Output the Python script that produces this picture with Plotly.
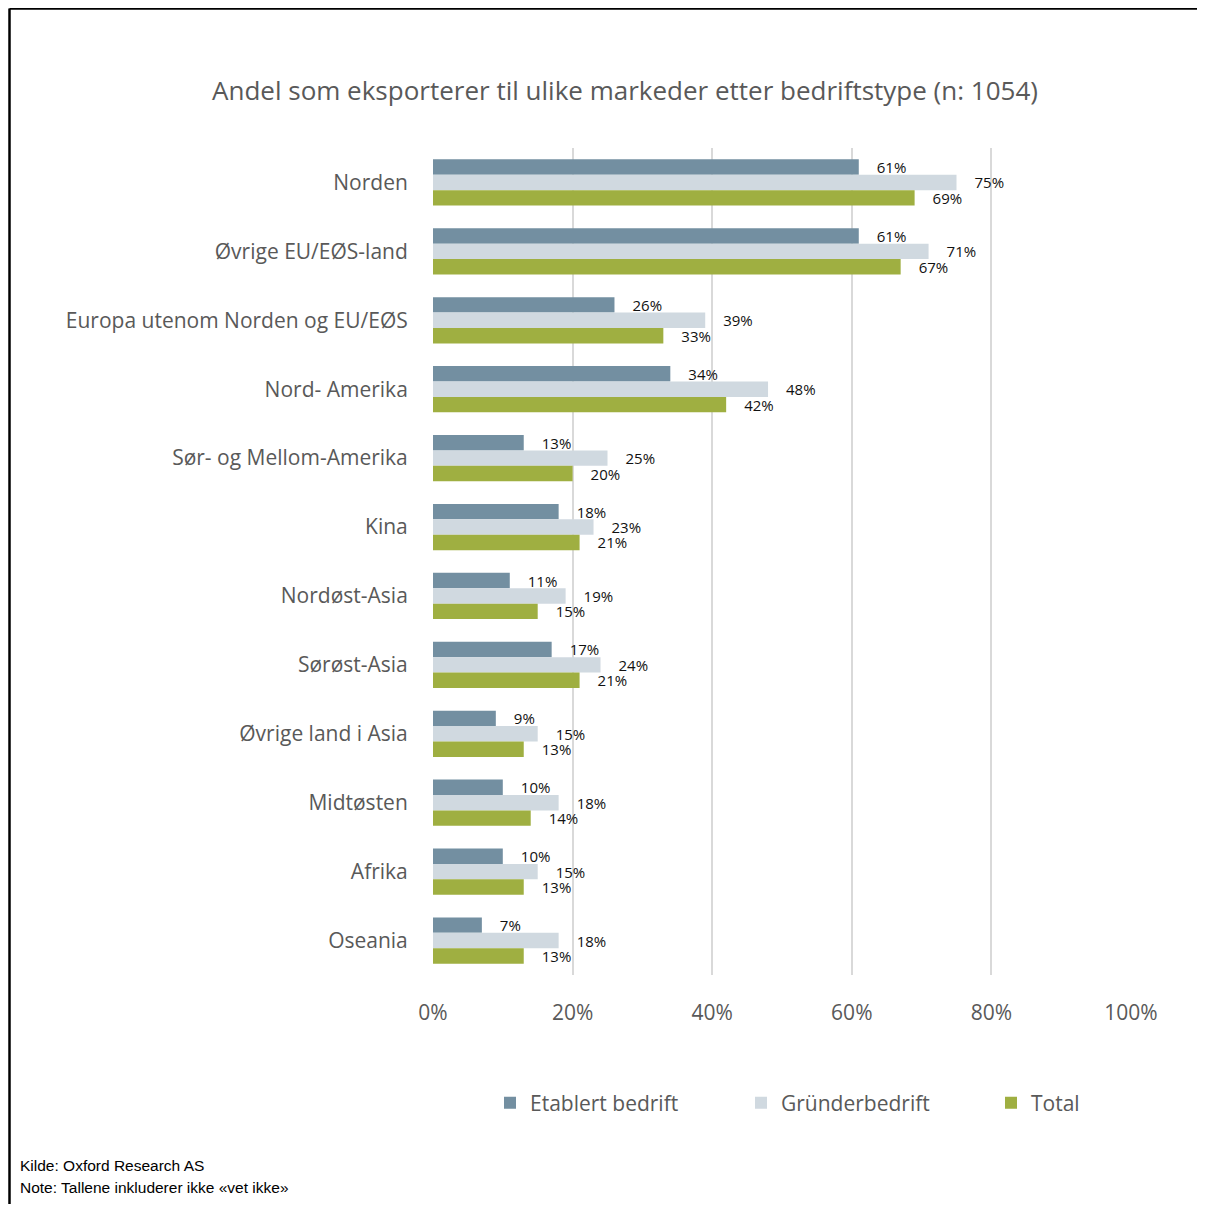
import plotly.graph_objects as go

markets = [
    "Norden", "Øvrige EU/EØS-land", "Europa utenom Norden og EU/EØS", "Nord- Amerika",
    "Sør- og Mellom-Amerika", "Kina", "Nordøst-Asia", "Sørøst-Asia",
    "Øvrige land i Asia", "Midtøsten", "Afrika", "Oseania",
]
etablert = [61, 61, 26, 34, 13, 18, 11, 17, 9, 10, 10, 7]
grunder = [75, 71, 39, 48, 25, 23, 19, 24, 15, 18, 15, 18]
total = [69, 67, 33, 42, 20, 21, 15, 21, 13, 14, 13, 13]

series = [
    ("Etablert bedrift", etablert, "#738FA1"),
    ("Gründerbedrift", grunder, "#D0D9E0"),
    ("Total", total, "#9FAF41"),
]

FONT = "Open Sans, Noto Sans, sans-serif"
GREY = "#595959"

# page has an 8px body margin; reference pixel coords are shifted by it
OFF = 8
W, H = 1205 - OFF - 8, 1212 - OFF - 8
L, R, T, B = 433 - OFF, 1131 - OFF, 148 - OFF, 975 - OFF


def px_x(p):
    return (p - OFF - L) / (R - L)


def px_y(p):
    return (B - (p - OFF)) / (B - T)


legend_left = [490, 741, 991]

fig = go.Figure()
for i, (name, vals, col) in enumerate(series):
    fig.add_trace(go.Bar(
        y=markets, x=vals, name=name, orientation="h",
        marker=dict(color=col, line=dict(width=0)),
        text=[f"\u2002\u2002{v}%" for v in vals], textposition="outside",
        constraintext="none",
        textfont=dict(family=FONT, size=15, color="#111111"),
        cliponaxis=False, showlegend=True,
        legend="legend" if i == 0 else f"legend{i + 1}",
    ))

leg = dict(orientation="h", y=px_y(1103), xanchor="left", yanchor="middle",
           bgcolor="rgba(0,0,0,0)", font=dict(family=FONT, size=21, color=GREY))

fig.update_layout(
    width=W, height=H, showlegend=True,
    margin=dict(l=L, r=W - R, t=T, b=H - B, autoexpand=False),
    paper_bgcolor="white", plot_bgcolor="white",
    barmode="group", bargap=0.33, bargroupgap=0,
    font=dict(family=FONT, color=GREY),
    title=dict(text="Andel som eksporterer til ulike markeder etter bedriftstype (n: 1054)",
               x=(625 - OFF) / W, xanchor="center", xref="container",
               y=1 - (91 - OFF) / H, yanchor="middle", yref="container",
               font=dict(family=FONT, size=26, color=GREY)),
    xaxis=dict(range=[0, 100], dtick=20, ticksuffix="%",
               showgrid=True, gridcolor="#D9D9D9", gridwidth=2,
               zeroline=False, showline=False,
               ticks="outside", ticklen=19, tickcolor="rgba(0,0,0,0)",
               tickfont=dict(family=FONT, size=21, color=GREY)),
    yaxis=dict(autorange="reversed", showgrid=False, showline=False,
               ticks="outside", ticklen=20, tickcolor="rgba(0,0,0,0)",
               tickfont=dict(family=FONT, size=21, color=GREY)),
    legend=dict(leg, x=px_x(legend_left[0])),
    legend2=dict(leg, x=px_x(legend_left[1])),
    legend3=dict(leg, x=px_x(legend_left[2])),
)

# frame lines (left and top edges)
fig.add_shape(type="line", xref="paper", yref="paper",
              x0=px_x(9.5), x1=px_x(1215), y0=px_y(8.5), y1=px_y(8.5),
              line=dict(color="black", width=2.5))
fig.add_shape(type="line", xref="paper", yref="paper",
              x0=px_x(9.5), x1=px_x(9.5), y0=px_y(8.5), y1=px_y(1220),
              line=dict(color="black", width=2.5))

notes = ["Kilde: Oxford Research AS", "Note: Tallene inkluderer ikke «vet ikke»"]
for i, t in enumerate(notes):
    fig.add_annotation(text=t, xref="paper", yref="paper",
                       x=px_x(18), y=px_y(1165 + 22 * i), xanchor="left", yanchor="middle",
                       showarrow=False,
                       font=dict(family="Liberation Sans Narrow, Liberation Sans, Arial", size=15.5,
                                 color="black"))

fig.write_html("out.html")
